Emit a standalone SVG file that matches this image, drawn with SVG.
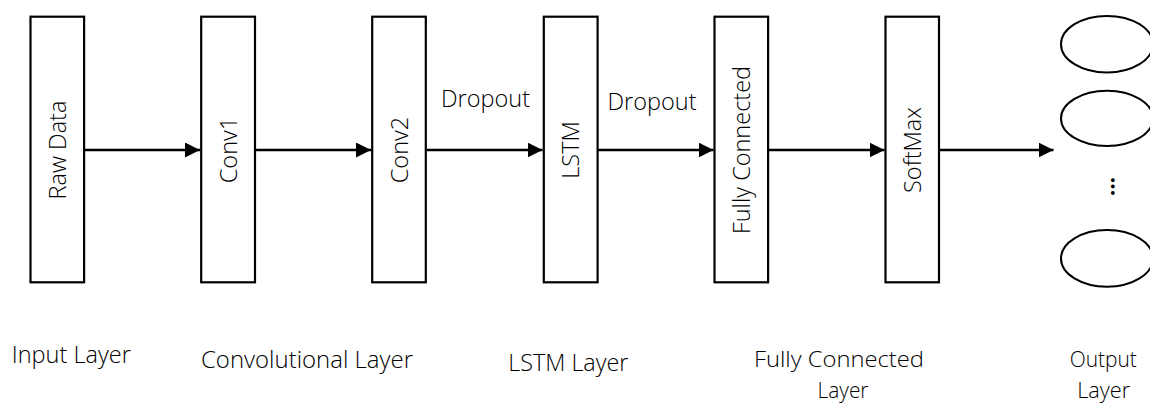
<svg xmlns="http://www.w3.org/2000/svg" width="1150" height="403" viewBox="0 0 1150 403">
<style>
.box{fill:#fff;stroke:#000;stroke-width:2.2}
.oval{fill:#fff;stroke:#000;stroke-width:2}
.edge{fill:none;stroke:#000;stroke-width:2.3}
.vl{font-family:"Open Sans","DejaVu Sans",sans-serif;font-weight:300;font-size:23.5px;fill:#000;text-anchor:middle}
.dl{font-family:"Open Sans","DejaVu Sans",sans-serif;font-weight:300;font-size:23.5px;fill:#000;text-anchor:middle}
.bl{font-family:"Open Sans","DejaVu Sans",sans-serif;font-weight:300;font-size:23px;fill:#000;text-anchor:middle}
.bl2{font-family:"Open Sans","DejaVu Sans",sans-serif;font-weight:300;font-size:22px;fill:#000;text-anchor:middle}
.dots{font-family:"Open Sans","DejaVu Sans",sans-serif;font-weight:bold;font-size:22px;fill:#000;text-anchor:middle}
</style>
<defs>
<marker id="ah" markerUnits="userSpaceOnUse" markerWidth="15" markerHeight="15" refX="15" refY="7.5" orient="auto">
<path d="M0,0 L15,7.5 L0,15 z" fill="#000"/>
</marker>
</defs>
<g id="connectors">
<line class="edge" x1="85" y1="150" x2="200" y2="150" marker-end="url(#ah)"/>
<line class="edge" x1="256" y1="150" x2="371" y2="150" marker-end="url(#ah)"/>
<line class="edge" x1="427" y1="150" x2="542.5" y2="150" marker-end="url(#ah)"/>
<line class="edge" x1="598" y1="150" x2="713.5" y2="150" marker-end="url(#ah)"/>
<line class="edge" x1="769" y1="150" x2="884.5" y2="150" marker-end="url(#ah)"/>
<line class="edge" x1="940" y1="150" x2="1053.5" y2="150" marker-end="url(#ah)"/>
<text class="dl" x="485.5" y="106.5">Dropout</text>
<text class="dl" x="652" y="109.5">Dropout</text>
</g>
<g id="raw-data">
<rect class="box" x="30.5" y="16.7" width="53.6" height="265.6"/>
<text class="vl" transform="translate(65.8,150) rotate(-90)">Raw Data</text>
</g>
<g id="conv1">
<rect class="box" x="201.2" y="16.7" width="53.8" height="265.6"/>
<text class="vl" transform="translate(236.6,150) rotate(-90)">Conv1</text>
</g>
<g id="conv2">
<rect class="box" x="372.2" y="16.7" width="53.6" height="265.6"/>
<text class="vl" transform="translate(407.5,150) rotate(-90)">Conv2</text>
</g>
<g id="lstm">
<rect class="box" x="543.8" y="16.7" width="53.8" height="265.6"/>
<text class="vl" transform="translate(579.2,150) rotate(-90)">LSTM</text>
</g>
<g id="fully-connected">
<rect class="box" x="714.5" y="16.7" width="53.6" height="265.6"/>
<text class="vl" transform="translate(749.8,150) rotate(-90)">Fully Connected</text>
</g>
<g id="softmax">
<rect class="box" x="885.5" y="16.7" width="53.5" height="265.6"/>
<text class="vl" transform="translate(920.8,150) rotate(-90)">SoftMax</text>
</g>
<g id="output-nodes">
<ellipse class="oval" cx="1107" cy="44.2" rx="46" ry="28.3"/>
<ellipse class="oval" cx="1107" cy="118.4" rx="46" ry="27.6"/>
<ellipse class="oval" cx="1107" cy="258.4" rx="46" ry="28.3"/>
<text class="dots" transform="translate(1110.6,186.5) rotate(90)">...</text>
</g>
<g id="layer-labels">
<text class="bl" x="71.3" y="362.5" textLength="119" lengthAdjust="spacingAndGlyphs">Input Layer</text>
<text class="bl" x="307" y="367.5" textLength="212" lengthAdjust="spacingAndGlyphs">Convolutional Layer</text>
<text class="bl" x="568.3" y="370.5" textLength="120" lengthAdjust="spacingAndGlyphs">LSTM Layer</text>
<text class="bl2"><tspan x="839" y="366.8" textLength="170" lengthAdjust="spacingAndGlyphs">Fully Connected</tspan><tspan x="843" y="397.6" textLength="51" lengthAdjust="spacingAndGlyphs">Layer</tspan></text>
<text class="bl2"><tspan x="1103.3" y="366.8" textLength="67" lengthAdjust="spacingAndGlyphs">Output</tspan><tspan x="1103.7" y="397.6" textLength="53" lengthAdjust="spacingAndGlyphs">Layer</tspan></text>
</g>
</svg>
